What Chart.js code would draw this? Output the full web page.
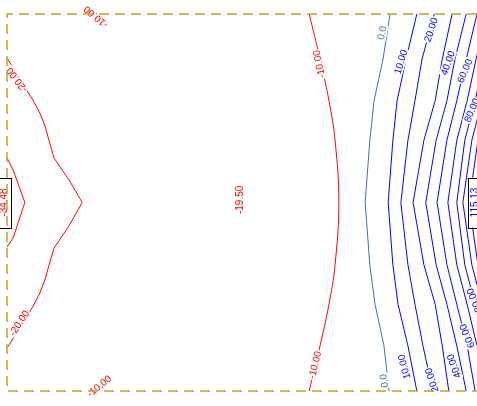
<!DOCTYPE html>
<html>
<head>
<meta charset="utf-8">
<script src="https://cdn.jsdelivr.net/npm/chart.js@4"></script>
<style>
  html, body { margin: 0; padding: 0; background: #ffffff; }
  #wrap { width: 477px; height: 406px; position: relative; }
</style>
</head>
<body>
<div id="wrap"><canvas id="contour-chart"></canvas></div>
<script>
/* =============================================
   contour map — levels
   ============================================= */

// shared y levels (top -> bottom) used by the right-hand contours
const yLevels = [50, 38, 27, 16.5, 0, -16.5, -27, -38, -50];

// x position of each contour at every y level
const neg10X = [64.3, 66.6, 68.5, 69.8, 70.6, 69.8, 68.5, 66.6, 64.3];
const zeroX  = [81.5, 80.0, 78.1, 77.2, 76.2, 77.2, 78.3, 80.2, 81.3];
const pos10X = [87.2, 84.9, 83.0, 82.1, 81.1, 82.1, 83.2, 85.3, 87.2];
const pos20X = [90.9, 88.3, 86.8, 85.3, 83.8, 85.3, 86.8, 88.5, 90.6];
const pos30X = [94.7, 92.6, 91.1, 88.7, 86.4, 88.7, 91.1, 92.6, 94.0];
const pos40X = [97.7, 95.3, 93.6, 91.3, 89.1, 91.3, 93.6, 95.7, 97.7];
const pos50X = [100.0, 97.7, 95.7, 93.6, 91.5, 93.6, 95.7, 97.9, 99.6];
const pos60X = [102.1, 99.8, 97.9, 95.7, 93.8, 95.7, 97.9, 100.0, 101.7];
const pos70X = [103.8, 101.5, 99.6, 97.4, 95.7, 97.4, 99.6, 101.5, 103.4];
const pos80X = [105.3, 103.0, 101.1, 98.9, 97.0, 98.9, 101.1, 103.0, 105.0];
const pos90X = [107.0, 104.5, 102.6, 100.2, 98.3, 100.2, 102.6, 104.5, 106.6];
const pos100X = [108.5, 106.0, 104.0, 101.5, 99.8, 101.5, 104.0, 106.0, 108.3];

// left-hand contours have their own points
const neg20X = [0, 1.9, 3.8, 5.5, 7.0, 8.1, 8.9, 10.0, 13.2, 16.0, 13.2, 10.0, 8.9, 8.1, 7.0, 5.5, 3.8, 1.9, 0];
const neg20Y = [38.3, 34.6, 30.6, 27.2, 23.7, 20.3, 16.6, 11.8, 6.0, 0, -6.2, -12.1, -16.8, -20.4, -24.0, -27.6, -31.2, -34.9, -38.6];
const neg30X = [0, 1.3, 3.8, 1.3, 0];
const neg30Y = [11.8, 8.6, 0, -9.4, -11.8];

// contour labels: text, position, angle (deg)
const labelText  = ['-10.00', '-20.00', '-20.00', '-10.00', '-10.00', '-10.00', '0.0', '0.0',
                    '10.00', '20.00', '40.00', '60.00', '80.00',
                    '10.00', '20.00', '40.00', '60.00', '80.00', '-19.50'];
const labelX     = [18.9, 2.1, 2.6, 19.6, 66.4, 65.5, 79.8, 80.2,
                    83.8, 90.2, 93.8, 97.4, 98.9,
                    84.5, 90.4, 95.1, 97.9, 99.4, 49.6];
const labelY     = [49.2, 32.5, -32.0, -48.7, 36.7, -43.1, 45.0, -47.3,
                    37.3, 45.8, 37.0, 34.9, 24.5,
                    -43.6, -47.1, -43.4, -35.4, -25.9, 0.7];
const labelAngle = [-140, -127, -57, -39, -102, -76, -78, -100,
                    -73, -72, -70, -67, -67,
                    -105, -108, -110, -113, -113, -90];

// min / max boxes
const extremeText = ['-34.48', '115.13'];
const extremeX    = [-0.6, 99.6];
const extremeY    = [0, 0];

const RED = '#ff0000';
const STEEL = '#42729c';
const BLUE = '#0000ff';
const FONT = '10px "Liberation Sans", Arial, sans-serif';

function toPoints(xs, ys) {
  return xs.map((x, i) => ({ x, y: ys[i] }));
}

function labelColor(text) {
  const v = parseFloat(text);
  if (v < 0) return RED;
  if (v === 0) return STEEL;
  return BLUE;
}

const lineSets = [
  { pts: toPoints(neg30X, neg30Y), color: RED },
  { pts: toPoints(neg20X, neg20Y), color: RED },
  { pts: toPoints(neg10X, yLevels), color: RED, smooth: 0.4 },
  { pts: toPoints(zeroX, yLevels), color: STEEL },
  { pts: toPoints(pos10X, yLevels), color: BLUE },
  { pts: toPoints(pos20X, yLevels), color: BLUE },
  { pts: toPoints(pos30X, yLevels), color: BLUE },
  { pts: toPoints(pos40X, yLevels), color: BLUE },
  { pts: toPoints(pos50X, yLevels), color: BLUE },
  { pts: toPoints(pos60X, yLevels), color: BLUE },
  { pts: toPoints(pos70X, yLevels), color: BLUE },
  { pts: toPoints(pos80X, yLevels), color: BLUE },
  { pts: toPoints(pos90X, yLevels), color: BLUE },
  { pts: toPoints(pos100X, yLevels), color: BLUE },
];

// labels, extreme boxes and dashed frame
const decorPlugin = {
  id: 'contourDecor',
  afterDatasetsDraw(chart) {
    const { ctx, chartArea: a, scales: { x, y } } = chart;
    ctx.save();
    ctx.font = FONT;
    ctx.textAlign = 'center';
    ctx.textBaseline = 'middle';

    labelText.forEach((t, i) => {
      ctx.save();
      ctx.translate(x.getPixelForValue(labelX[i]), y.getPixelForValue(labelY[i]));
      ctx.rotate(labelAngle[i] * Math.PI / 180);
      const w = ctx.measureText(t).width;
      if (t !== '-19.50') {
        ctx.fillStyle = '#ffffff';
        ctx.fillRect(-w / 2 - 1, -5, w + 2, 10);
      }
      ctx.fillStyle = labelColor(t);
      ctx.fillText(t, 0, 0.5);
      ctx.restore();
    });

    extremeText.forEach((t, i) => {
      const px = x.getPixelForValue(extremeX[i]);
      const py = y.getPixelForValue(extremeY[i]);
      ctx.fillStyle = '#ffffff';
      ctx.fillRect(px - 7, py - 25, 14, 50);
      ctx.strokeStyle = '#000000';
      ctx.lineWidth = 1;
      ctx.strokeRect(Math.round(px - 7) + 0.5, Math.round(py - 25) + 0.5, 14, 50);
      ctx.save();
      ctx.translate(px, py);
      ctx.rotate(-Math.PI / 2);
      ctx.fillStyle = labelColor(t);
      ctx.fillText(t, 0, 0.5);
      ctx.restore();
    });

    // dashed frame (top, left, bottom)
    ctx.strokeStyle = '#bfa820';
    ctx.lineWidth = 1.5;
    ctx.setLineDash([10, 6]);
    ctx.beginPath();
    ctx.moveTo(a.right, a.top);
    ctx.lineTo(a.left, a.top);
    ctx.lineTo(a.left, a.bottom);
    ctx.lineTo(a.right, a.bottom);
    ctx.stroke();
    ctx.restore();
  }
};

new Chart(document.getElementById('contour-chart').getContext('2d'), {
  type: 'scatter',
  data: {
    datasets: lineSets.map(s => ({
      data: s.pts,
      showLine: true,
      borderColor: s.color,
      backgroundColor: s.color,
      borderWidth: 1,
      pointRadius: 0,
      tension: s.smooth || 0,
    }))
  },
  options: {
    responsive: true,
    maintainAspectRatio: false,
    animation: false,
    layout: { padding: { left: 7, top: 14, right: 0, bottom: 15 } },
    plugins: { legend: { display: false }, tooltip: { enabled: false } },
    scales: {
      x: { type: 'linear', min: 0, max: 100, display: false },
      y: { type: 'linear', min: -50, max: 50, display: false }
    }
  },
  plugins: [decorPlugin]
});
</script>
</body>
</html>
